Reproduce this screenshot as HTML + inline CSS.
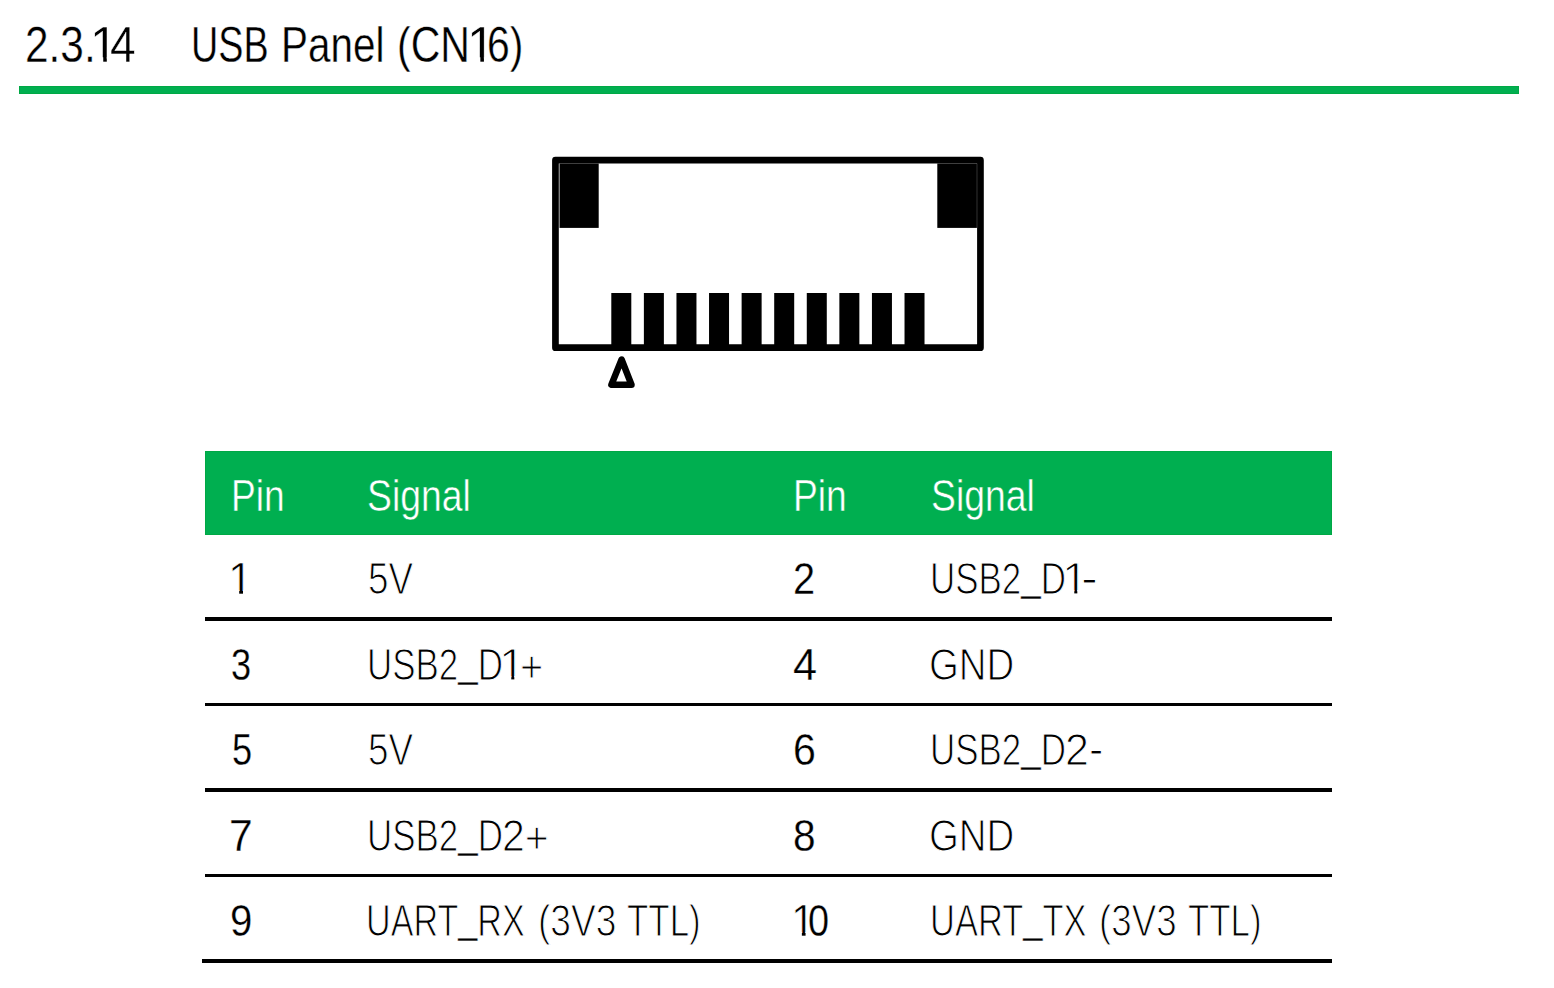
<!DOCTYPE html>
<html lang="en">
<head>
<meta charset="utf-8">
<title>2.3.14 USB Panel (CN16)</title>
<style>
html,body{margin:0;padding:0;background:#fff;}
body{width:1554px;height:988px;position:relative;overflow:hidden;font-family:"Liberation Sans",sans-serif;color:#000;}
.r{position:absolute;left:0;margin:0;padding:0;width:1554px;height:1em;line-height:1;font-weight:normal;white-space:pre;color:transparent;}
.r span{position:absolute;top:0;left:0;white-space:pre;line-height:1;transform-origin:0 0;color:#000;}
.h1{font-size:50.2px;}
.h1 span{-webkit-text-stroke:0.4px #fff;}
.th{font-size:44.8px;}
.th span{color:#fff;-webkit-text-stroke:0.5px #00af50;}
.pn{font-size:44.6px;}
.pn span{-webkit-text-stroke:0.3px #fff;}
.sg{font-size:44px;}
.sg span{-webkit-text-stroke:1.1px #fff;transform-origin:0 84.67%;}
.pn span.one{-webkit-text-stroke:0.7px #fff;clip-path:polygon(0 0,100% 0,100% 74.8%,61% 74.8%,61% 100%,45.5% 100%,45.5% 74.8%,0 74.8%);}
.h1 span.one{clip-path:polygon(0 0,100% 0,100% 74.8%,60.4% 74.8%,60.4% 100%,47.6% 100%,47.6% 74.8%,0 74.8%);}
.sg span.one{clip-path:polygon(0 0,100% 0,100% 74.8%,59.1% 74.8%,59.1% 100%,47.4% 100%,47.4% 74.8%,0 74.8%);}
.r i{font-style:normal;position:relative;top:-4px;-webkit-text-stroke:0.4px #fff;}
.r i.p{top:1.9px;-webkit-text-stroke:inherit;}
.r i.m{top:-1.1px;-webkit-text-stroke:inherit;}
.bar{position:absolute;background:#00af50;box-shadow:inset 0 0 0 1px #00a845;}
.ln{position:absolute;background:#000;left:205px;width:1127px;height:3.5px;}
svg{position:absolute;left:0;top:0;}
</style>
</head>
<body>
<div class="bar" style="left:19px;top:86px;width:1500px;height:8px"></div>

<svg width="1554" height="988" viewBox="0 0 1554 988">
  <rect x="555.45" y="160.2" width="425" height="187.45" fill="none" stroke="#000" stroke-width="6.7" stroke-linejoin="round"/>
  <rect x="559.5" y="163.5" width="39.2" height="64.4" fill="#000"/>
  <rect x="937.3" y="163.5" width="39.6" height="64.4" fill="#000"/>
  <g fill="#000">
    <rect x="611.30" y="293" width="20" height="52"/>
    <rect x="643.88" y="293" width="20" height="52"/>
    <rect x="676.46" y="293" width="20" height="52"/>
    <rect x="709.04" y="293" width="20" height="52"/>
    <rect x="741.62" y="293" width="20" height="52"/>
    <rect x="774.20" y="293" width="20" height="52"/>
    <rect x="806.78" y="293" width="20" height="52"/>
    <rect x="839.36" y="293" width="20" height="52"/>
    <rect x="871.94" y="293" width="20" height="52"/>
    <rect x="904.52" y="293" width="20" height="52"/>
  </g>
  <path d="M621.6 359.5 L611.4 384.8 L631.5 384.8 Z" fill="none" stroke="#000" stroke-width="6.5" stroke-linejoin="round"/>
</svg>

<div class="bar" style="left:205px;top:451px;width:1127px;height:84px"></div>
<div class="ln" style="top:617px;height:4px"></div>
<div class="ln" style="top:703px;height:3px"></div>
<div class="ln" style="top:788px;height:4px"></div>
<div class="ln" style="top:874px;height:3px"></div>
<div class="ln" style="top:959px;left:202px;width:1130px;height:4px"></div>

<h1 class="r h1" style="top:19.80px"><span style="left:24.84px;transform:scaleX(0.8451)">2.3.</span><span class="one" style="left:90.00px;transform:scaleX(0.9959)">1</span><span style="left:109.80px;transform:scaleX(0.9182)">4</span>    <span style="left:191.34px;transform:scaleX(0.7517)">USB </span><span style="left:280.88px;transform:scaleX(0.8057)">Panel </span><span style="left:397.37px;transform:scaleX(0.8170)">(CN</span><span class="one" style="left:466.96px;transform:scaleX(1.0043)">1</span><span style="left:487.02px;transform:scaleX(0.8146)">6)</span></h1>
<div class="r th" style="top:473.37px"><span style="left:230.75px;transform:scaleX(0.8294)">Pin</span></div>
<div class="r th" style="top:473.37px"><span style="left:367.23px;transform:scaleX(0.8330)">Signal</span></div>
<div class="r th" style="top:473.37px"><span style="left:793.28px;transform:scaleX(0.8311)">Pin</span></div>
<div class="r th" style="top:473.37px"><span style="left:930.53px;transform:scaleX(0.8330)">Signal</span></div>
<div class="r pn" style="top:556.54px"><span class="one" style="left:227.51px;transform:scaleX(0.9919)">1</span></div>
<div class="r sg" style="top:557.05px"><span style="left:368.26px;transform:scaleX(0.8373)">5V</span></div>
<div class="r pn" style="top:556.54px"><span style="left:792.90px;transform:scaleX(0.8929)">2</span></div>
<div class="r sg" style="top:557.05px"><span style="left:929.88px;transform:scaleX(0.7937)">USB2<i>_</i>D</span><span class="one" style="left:1061.65px;transform:scaleX(1.0585)">1</span><span style="left:1080.78px;transform:scaleX(1.1523)"><i class="m">-</i></span></div>
<div class="r pn" style="top:642.54px"><span style="left:230.75px;transform:scaleX(0.8121)">3</span></div>
<div class="r sg" style="top:643.05px"><span style="left:367.38px;transform:scaleX(0.7937)">USB2<i>_</i>D</span><span class="one" style="left:499.15px;transform:scaleX(1.0585)">1</span><span style="left:519.54px;transform:scaleX(0.9043)"><i class="p">+</i></span></div>
<div class="r pn" style="top:642.54px"><span style="left:793.04px;transform:scaleX(0.9693)">4</span></div>
<div class="r sg" style="top:643.05px"><span style="left:929.42px;transform:scaleX(0.8723)">GND</span></div>
<div class="r pn" style="top:727.54px"><span style="left:231.60px;transform:scaleX(0.8121)">5</span></div>
<div class="r sg" style="top:728.05px"><span style="left:368.26px;transform:scaleX(0.8373)">5V</span></div>
<div class="r pn" style="top:727.54px"><span style="left:793.33px;transform:scaleX(0.9221)">6</span></div>
<div class="r sg" style="top:728.05px"><span style="left:929.88px;transform:scaleX(0.7937)">USB2<i>_</i>D</span><span style="left:1064.95px;transform:scaleX(0.9776)">2<i class="m">-</i></span></div>
<div class="r pn" style="top:813.54px"><span style="left:229.16px;transform:scaleX(0.9560)">7</span></div>
<div class="r sg" style="top:814.05px"><span style="left:367.38px;transform:scaleX(0.7937)">USB2<i>_</i>D</span><span style="left:502.16px;transform:scaleX(0.9323)">2<i class="p">+</i></span></div>
<div class="r pn" style="top:813.54px"><span style="left:793.39px;transform:scaleX(0.9107)">8</span></div>
<div class="r sg" style="top:814.05px"><span style="left:929.42px;transform:scaleX(0.8723)">GND</span></div>
<div class="r pn" style="top:898.54px"><span style="left:230.08px;transform:scaleX(0.9026)">9</span></div>
<div class="r sg" style="top:899.05px"><span style="left:366.44px;transform:scaleX(0.7760)">UART<i>_</i>RX </span><span style="left:537.99px;transform:scaleX(0.8444)">(3V3 </span><span style="left:627.02px;transform:scaleX(0.7938)">TTL)</span></div>
<div class="r pn" style="top:898.54px"><span class="one" style="left:790.74px;transform:scaleX(0.9624)">1</span><span style="left:807.99px;transform:scaleX(0.8500)">0</span></div>
<div class="r sg" style="top:899.05px"><span style="left:929.81px;transform:scaleX(0.7837)">UART<i>_</i>TX </span><span style="left:1098.71px;transform:scaleX(0.8364)">(3V3 </span><span style="left:1188.12px;transform:scaleX(0.7916)">TTL)</span></div>
</body>
</html>
